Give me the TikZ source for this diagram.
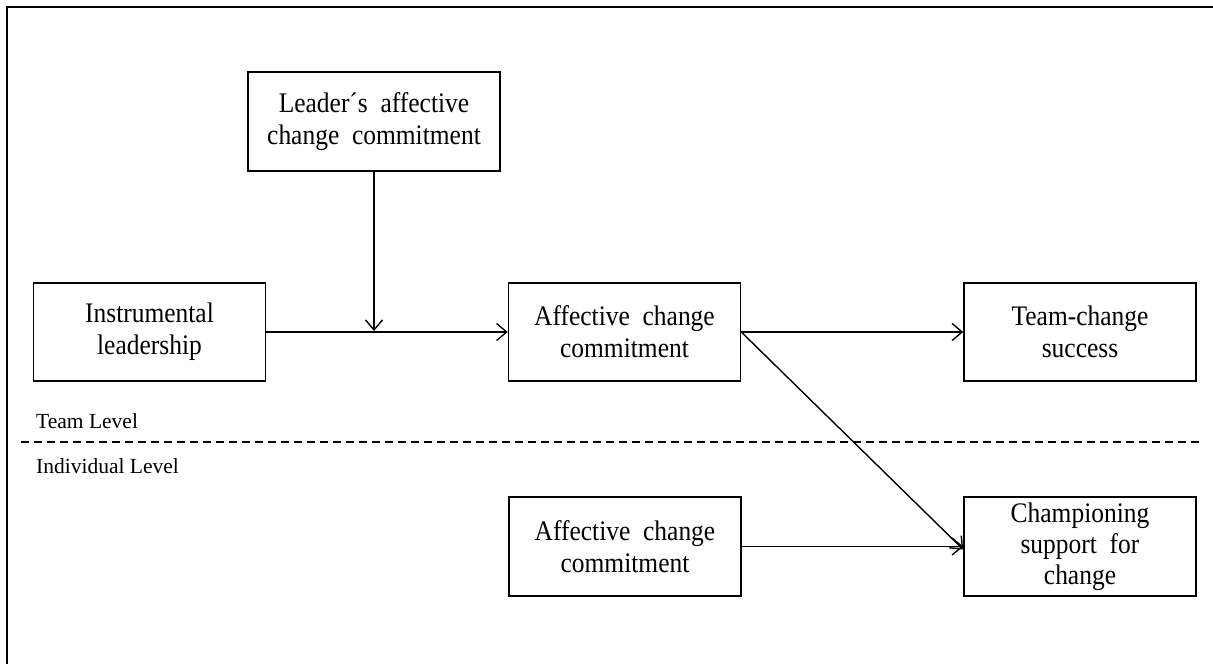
\documentclass[tikz,border=0pt]{standalone}
\usepackage{fontspec}
\setmainfont{Liberation Serif}
\newfontfamily\boxfont[FakeStretch=0.9]{Liberation Serif}
\usetikzlibrary{arrows.meta}
\begin{document}
\begin{tikzpicture}[x=1pt,y=-1pt,
  box/.style={draw,line width=1.6pt,minimum width=232pt,minimum height=98.5pt,
    align=center,inner sep=0pt,font=\boxfont\fontsize{28.3}{32}\selectfont},
  arr/.style={line width=1.4pt,-{Straight Barb[length=10pt,width=17pt,line width=1.4pt]}},
  lvl/.style={anchor=base west,inner sep=0pt,font=\fontsize{21.5}{25}\selectfont}]
\useasboundingbox (0,0) rectangle (1213,664);
\draw[line width=1.4pt] (7,664) -- (7,7) -- (1213,7);
\node[box,minimum width=252pt] (lead) at (374,121.5) {Leader´s\ \ affective\\change\ \ commitment};
\node[box] (instr) at (149.5,332) {Instrumental\\leadership};
\node[box] (aff) at (624.5,332) {Affective\ \ change\\commitment};
\node[box] (team) at (1080,332) {Team-change\\success};
\node[box] (aff2) at (625,546.5) {Affective\ \ change\\commitment};
\node[box,font=\boxfont\fontsize{28.3}{31}\selectfont] (champ) at (1080,546.5) {Championing\\support\ \ for\\change};
\coordinate (join) at (374,331);
\draw[arr] (lead.south) -- (join);
\draw[arr] (instr.east) -- (aff.west);
\draw[arr] (aff.east) -- (team.west);
\draw[arr] (aff.east) -- ([yshift=-3pt]champ.west);
\draw[arr] (aff2.east) -- (champ.west);
\node[lvl] (tl) at (36,428) {Team Level};
\node[lvl] (il) at (36,473) {Individual Level};
\coordinate (dl) at (21,442);
\coordinate (dr) at (1202,442);
\draw[line width=1.5pt,dash pattern=on 8pt off 5pt] (dl) -- (dr);
\end{tikzpicture}
\end{document}
